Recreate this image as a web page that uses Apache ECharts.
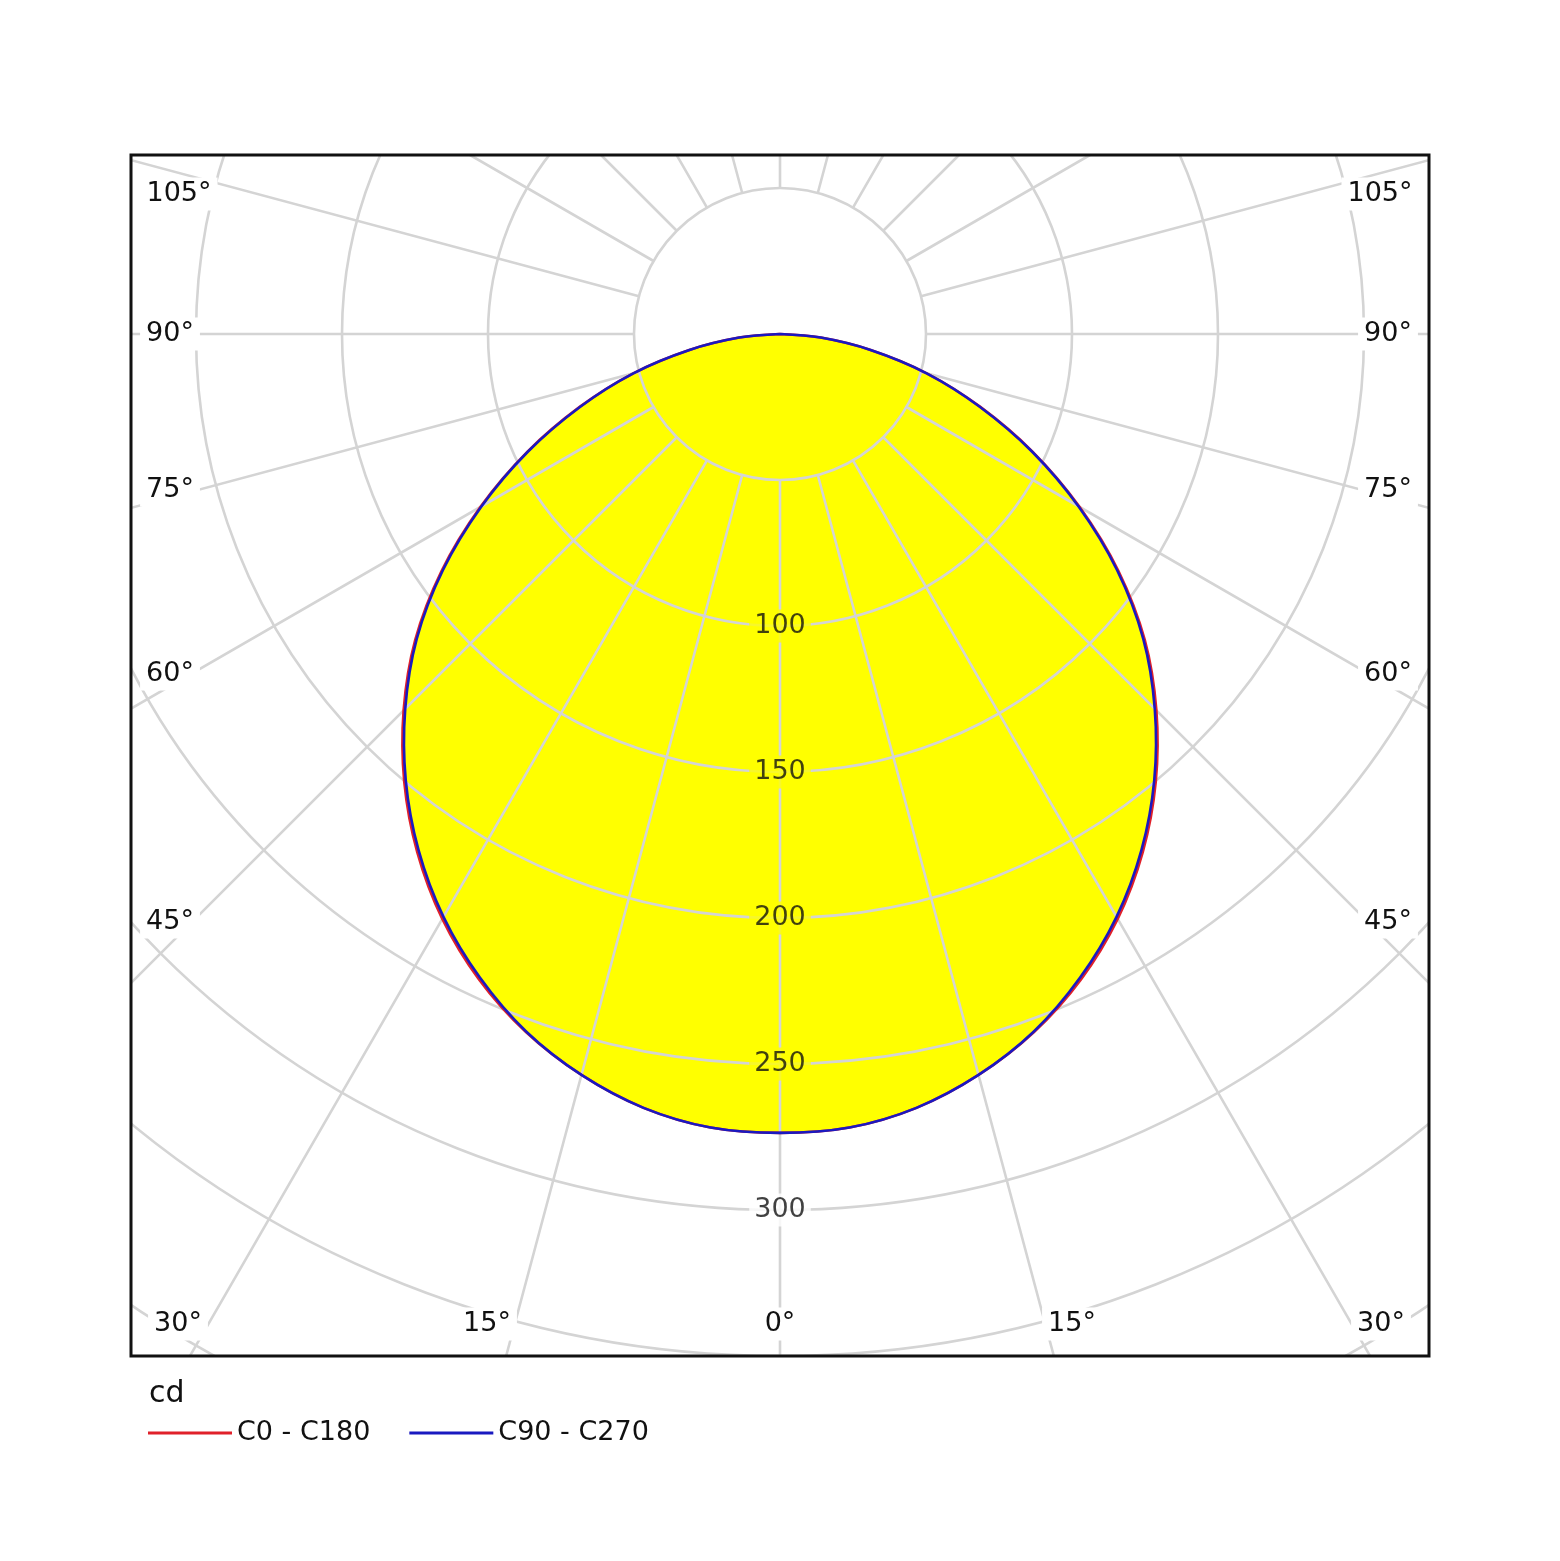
<!DOCTYPE html>
<html>
<head>
<meta charset="utf-8">
<script src="https://cdn.jsdelivr.net/npm/echarts@6/dist/echarts.min.js"></script>
<style>
  html, body { margin: 0; padding: 0; background: #fff; }
  #chart { width: 1560px; height: 1561px; }
</style>
</head>
<body>
<div id="chart"></div>
<script>
// gamma angles (deg from nadir) and luminous intensity in cd
var gammaAngles = [0, 5, 10, 15, 20, 25, 30, 35, 40, 45, 50, 55, 60, 65, 70, 75, 80, 85, 90];
var c0c180 =      [273.6, 272.8, 269.1, 262.7, 254.4, 243.9, 231.3, 216.6, 200.2, 182.3, 163.1, 141.5, 118.5, 95.5, 73, 52, 31.5, 14, 0];
var c90c270 =     [273.6, 272.8, 269.1, 262.7, 254.2, 243.2, 230.5, 215.8, 199.4, 181.5, 162.4, 140.9, 118, 95.2, 72.8, 52, 31.5, 14, 0];

var radiusLabels = [100, 150, 200, 250, 300];
var sideLabels = ['105°', '90°', '75°', '60°', '45°'];
var bottomLabels = ['30°', '15°', '0°', '15°', '30°'];
var seriesNames = ['C0 - C180', 'C90 - C270'];
var unitLabel = 'cd';

var FONT = '"DejaVu Sans", Verdana, sans-serif';
var GRID = '#d4d4d4';

// mirror a half curve round the nadir: right half negative angles, left half positive
function toPolar(values) {
    var pts = [];
    var i;
    for (i = values.length - 1; i > 0; i--) {
        pts.push([values[i], -gammaAngles[i]]);
    }
    for (i = 0; i < values.length; i++) {
        pts.push([values[i], gammaAngles[i]]);
    }
    return pts;
}

// whole curve drawn once through api.coord, smoothed without clamping
function curveSeries(name, values, color, z, isFill) {
    var pts = toPolar(values);
    return {
        name: name, type: 'custom', coordinateSystem: 'polar', polarIndex: 1,
        data: pts, z: z, silent: true,
        itemStyle: { color: color },
        renderItem: function (params, api) {
            if (params.dataIndex !== 0) {
                return;
            }
            var xy = pts.map(function (p) { return api.coord(p); });
            if (isFill) {
                return {
                    type: 'polygon',
                    shape: { points: xy.slice(0, xy.length - 1), smooth: 0.33 },
                    style: { fill: color, stroke: null }
                };
            }
            return {
                type: 'polyline',
                shape: { points: xy, smooth: 0.33 },
                style: { stroke: color, lineWidth: 2.6, fill: null }
            };
        }
    };
}

var chart = echarts.init(document.getElementById('chart'));

// label layout (text centre points)
var sideY = [194, 334, 490, 674, 922];
var leftX = [179, 170, 170, 170, 170];
var rightX = [1380, 1388, 1388, 1388, 1388];
var bottomX = [178, 487, 780, 1072, 1381];

var graphics = [
    { type: 'rect', z: 50, silent: true, shape: { x: 0, y: 0, width: 1560, height: 155 }, style: { fill: '#fff' } },
    { type: 'rect', z: 50, silent: true, shape: { x: 0, y: 1356, width: 1560, height: 205 }, style: { fill: '#fff' } },
    { type: 'rect', z: 50, silent: true, shape: { x: 0, y: 0, width: 131, height: 1561 }, style: { fill: '#fff' } },
    { type: 'rect', z: 50, silent: true, shape: { x: 1429, y: 0, width: 131, height: 1561 }, style: { fill: '#fff' } },
    { type: 'rect', z: 51, silent: true, shape: { x: 131, y: 155, width: 1298, height: 1201 },
      style: { fill: 'none', stroke: '#111', lineWidth: 3 } },
    { type: 'text', z: 52, x: 149, y: 1394, style: { text: unitLabel, font: '30px ' + FONT, fill: '#111',
      align: 'left', verticalAlign: 'middle' } }
];

function angleText(txt, x, y) {
    return {
        type: 'text', z: 52, x: x, y: y, silent: true,
        style: {
            text: txt, font: '27px ' + FONT, fill: '#111',
            align: 'center', verticalAlign: 'middle',
            backgroundColor: '#fff', padding: [3, 6]
        }
    };
}

var i;
for (i = 0; i < sideLabels.length; i++) {
    graphics.push(angleText(sideLabels[i], leftX[i], sideY[i]));
    graphics.push(angleText(sideLabels[i], rightX[i], sideY[i]));
}
for (i = 0; i < bottomLabels.length; i++) {
    graphics.push(angleText(bottomLabels[i], bottomX[i], 1324));
}

var option = {
    animation: false,
    backgroundColor: '#fff',
    polar: [
        { center: [780, 334], radius: [146, 1314] },
        { center: [780, 334], radius: [0, 1314] }
    ],
    angleAxis: [
        {
            polarIndex: 0, type: 'value', min: -180, max: 180, interval: 15,
            startAngle: 90, clockwise: true, z: 3,
            axisLine: { show: false }, axisTick: { show: false }, axisLabel: { show: false },
            splitLine: { show: true, lineStyle: { color: GRID, width: 2.6 } }
        },
        {
            polarIndex: 1, type: 'value', min: -180, max: 180, interval: 15,
            startAngle: 90, clockwise: true,
            axisLine: { show: false }, axisTick: { show: false }, axisLabel: { show: false },
            splitLine: { show: false }
        }
    ],
    radiusAxis: [
        {
            polarIndex: 0, type: 'value', min: 50, max: 450, interval: 50, z: 3,
            axisLine: { show: false }, axisTick: { show: false }, axisLabel: { show: false },
            splitLine: { show: true, lineStyle: { color: GRID, width: 2.6 } }
        },
        {
            polarIndex: 1, type: 'value', min: 0, max: 450, interval: 50,
            axisLine: { show: false }, axisTick: { show: false }, axisLabel: { show: false },
            splitLine: { show: false }
        }
    ],
    legend: {
        data: seriesNames,
        left: 143, top: 1413, z: 60,
        icon: 'rect', itemWidth: 84, itemHeight: 3, itemGap: 39,
        textStyle: { fontFamily: FONT, fontSize: 27, color: '#111', lineHeight: 30 }
    },
    graphic: { elements: graphics },
    series: [
        curveSeries('fill', c0c180, '#ffff00', 1, true),
        curveSeries(seriesNames[0], c0c180, '#e0202a', 6, false),
        curveSeries(seriesNames[1], c90c270, '#1a1ac0', 7, false),
        {
            name: 'cd labels', type: 'scatter', coordinateSystem: 'polar', polarIndex: 1,
            symbolSize: 0, silent: true, z: 5,
            data: radiusLabels.map(function (v) { return [v, 0]; }),
            label: {
                show: true, position: 'inside', color: '#111', textBorderWidth: 0,
                formatter: function (p) {
                    var v = p.value[0];
                    return (v < c0c180[0] ? '{y|' : '{w|') + v + '}';
                },
                rich: {
                    y: { fontFamily: FONT, fontSize: 27, color: '#111', backgroundColor: '#ffff00', padding: [3, 5] },
                    w: { fontFamily: FONT, fontSize: 27, color: '#111', backgroundColor: '#fff', padding: [3, 5] }
                }
            }
        }
    ]
};
chart.setOption(option);
</script>
</body>
</html>
